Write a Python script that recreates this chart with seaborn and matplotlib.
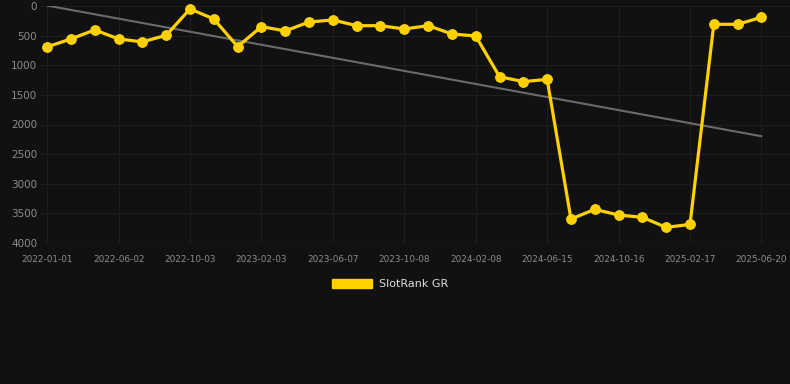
import numpy as np
import pandas as pd
import matplotlib
matplotlib.use("Agg")
import matplotlib.pyplot as plt
import seaborn as sns
from matplotlib.patches import Patch

# rank values (one point every ~42 days)
ranks = [690, 556, 404, 556, 606, 494, 50, 219, 686, 348, 421,
         270, 236, 332, 332, 388, 332, 472, 506, 1193, 1277, 1238,
         3596, 3432, 3528, 3567, 3736, 3686, 309, 309, 191]
tick_labels = ["2022-01-01", "2022-06-02", "2022-10-03", "2023-02-03",
               "2023-06-07", "2023-10-08", "2024-02-08", "2024-06-15",
               "2024-10-16", "2025-02-17", "2025-06-20"]
y_ticks = [0, 500, 1000, 1500, 2000, 2500, 3000, 3500, 4000]

df = pd.DataFrame({"idx": np.arange(len(ranks)), "rank": ranks})

bg = "#111111"
yellow = "#FFD100"

sns.set_style("dark", {"axes.facecolor": bg, "figure.facecolor": bg,
                       "grid.color": "#1e1e1e", "axes.grid": True})
plt.rcParams["font.family"] = ["DejaVu Sans"]

fig = plt.figure(figsize=(7.9, 3.84), dpi=100)
ax = fig.add_axes([40 / 790, 141 / 384, 750 / 790, 237 / 384])
ax.set_facecolor(bg)

# trend line (least squares fit)
sns.regplot(data=df, x="idx", y="rank", scatter=False, ci=None, ax=ax,
            line_kws={"color": "#6b6b6b", "lw": 1.5, "zorder": 2})

sns.lineplot(data=df, x="idx", y="rank", ax=ax, color=yellow, lw=2.3,
             marker="o", markersize=7, markeredgecolor=yellow,
             zorder=3, clip_on=False)

ax.set_xlim(-0.3, 31.2)
ax.set_ylim(4000, 0)
ax.set_yticks(y_ticks)
ax.set_yticklabels([str(v) for v in y_ticks], fontsize=7.5, color="#8c8c8c")
ax.set_xticks(np.arange(0, len(ranks), 3))
ax.set_xticklabels(tick_labels, fontsize=6.4, color="#8c8c8c")
ax.tick_params(axis="x", length=0, pad=8.5)
ax.tick_params(axis="y", length=0, pad=2)
ax.grid(True, color="#1e1e1e", lw=0.8)
ax.axhline(4000, color="#2a2a2a", lw=0.8, zorder=1)
ax.set_xlabel("")
ax.set_ylabel("")
for s in ax.spines.values():
    s.set_visible(False)

handles = [Patch(facecolor=yellow, edgecolor=yellow, label="SlotRank GR")]
fig.legend(handles=handles, loc="center", bbox_to_anchor=(390 / 790, 1 - 284 / 384),
           frameon=False, fontsize=8, labelcolor="#dddddd",
           handlelength=3.6, handleheight=0.9, handletextpad=0.6)

fig.savefig("out.png", dpi=100, facecolor=bg)
